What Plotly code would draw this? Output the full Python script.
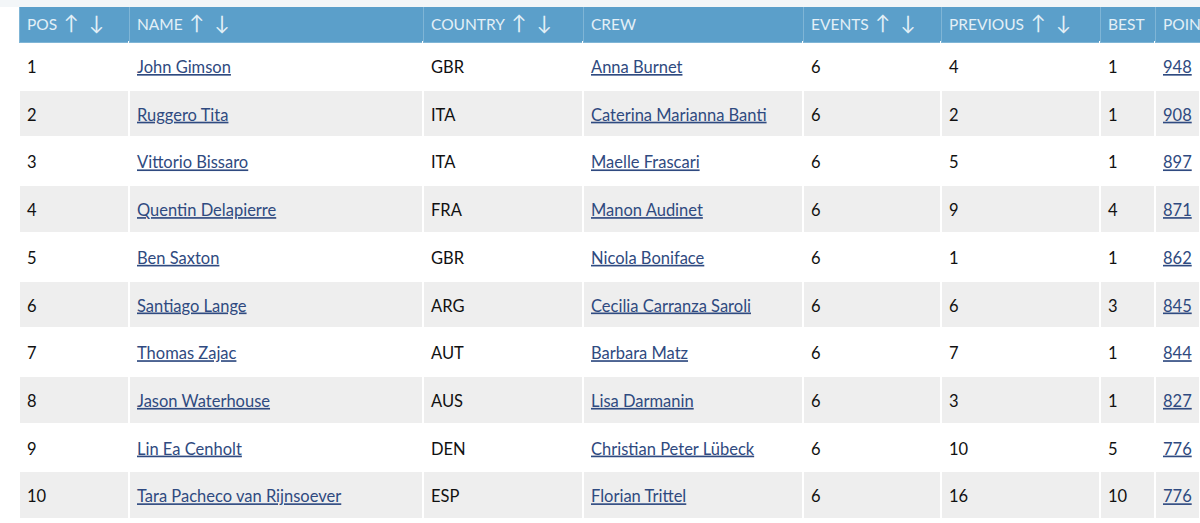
import plotly.graph_objects as go

# Table contents
pos = ["1", "2", "3", "4", "5", "6", "7", "8", "9", "10"]
names = ["John Gimson", "Ruggero Tita", "Vittorio Bissaro", "Quentin Delapierre", "Ben Saxton",
         "Santiago Lange", "Thomas Zajac", "Jason Waterhouse", "Lin Ea Cenholt", "Tara Pacheco van Rijnsoever"]
countries = ["GBR", "ITA", "ITA", "FRA", "GBR", "ARG", "AUT", "AUS", "DEN", "ESP"]
crews = ["Anna Burnet", "Caterina Marianna Banti", "Maelle Frascari", "Manon Audinet", "Nicola Boniface",
         "Cecilia Carranza Saroli", "Barbara Matz", "Lisa Darmanin", "Christian Peter Lübeck", "Florian Trittel"]
events = ["6"] * 10
previous = ["4", "2", "5", "9", "1", "6", "7", "3", "10", "16"]
best = ["1", "1", "1", "4", "1", "3", "1", "1", "5", "10"]
points = ["948", "908", "897", "871", "862", "845", "844", "827", "776", "776"]

headers = ["POS", "NAME", "COUNTRY", "CREW", "EVENTS", "PREVIOUS", "BEST", "POINTS"]
sortable = [True, True, True, False, True, True, False, False]
col_widths = [110, 294, 160, 220, 138, 159, 55, 45]

header_blue = "#5b9fca"
row_grey = "#eeeeee"
link_blue = "#2f4a80"
ink = "#111111"
text_px = 16.5
arrow_px = 20
strut_px = 23


# The table puts text at the top of the cell, by the tallest glyph in it. A bigger
# non-breaking space after the text moves the baseline down. The <br> stops re-wrapping.
def head(label, arrows):
    s = f'<span style="font-size:15.5px">{label}</span>'
    if arrows:
        s += f'<span style="font-size:{arrow_px}px">\u00a0\u200a↑\u00a0\u00a0↓</span>'
    else:
        s += f'<span style="font-size:{arrow_px}px">\u00a0</span>'
    return s + "<br>"


def plain(v):
    return f'<span style="font-size:{text_px}px">{v}</span><span style="font-size:{strut_px}px">\u00a0</span><br>'


def link(v):
    return f'<span style="font-size:{text_px}px"><u>{v}</u></span><span style="font-size:{strut_px}px">\u00a0</span><br>'


cols = [[plain(v) for v in pos], [link(v) for v in names], [plain(v) for v in countries],
        [link(v) for v in crews], [plain(v) for v in events], [plain(v) for v in previous],
        [plain(v) for v in best], [link(v) for v in points]]
text_colors = [ink, link_blue, ink, link_blue, ink, ink, ink, link_blue]
row_fill = ["white" if i % 2 == 0 else row_grey for i in range(len(pos))]

fig = go.Figure(go.Table(
    domain=dict(x=[19 / 1200, 1], y=[0, 1 - 2 / 523]),
    columnwidth=col_widths,
    header=dict(
        values=[head(h, a) for h, a in zip(headers, sortable)],
        fill_color=header_blue,
        line=dict(color="#7fb5d6", width=1),
        align="left",
        font=dict(family="Lato", size=15, color="#e3f0f7"),
        height=37,
    ),
    cells=dict(
        values=cols,
        fill_color=[row_fill] * 8,
        line=dict(color="white", width=2),
        align="left",
        font=dict(family="Lato", size=15, color=text_colors),
        height=47.7,
    ),
))

fig.update_layout(
    width=1200,
    height=523,
    margin=dict(l=0, r=0, t=0, b=0),
    paper_bgcolor="white",
)
# faint band above the header, drawn over the top of the header row
fig.add_shape(type="rect", xref="paper", yref="paper", x0=0, x1=1, y0=1 - 7 / 523, y1=1,
              fillcolor="#f3f6f8", line_width=0, layer="above")

fig.write_html("out.html", config={"displayModeBar": False},
               post_script="document.body.style.margin='0';")
